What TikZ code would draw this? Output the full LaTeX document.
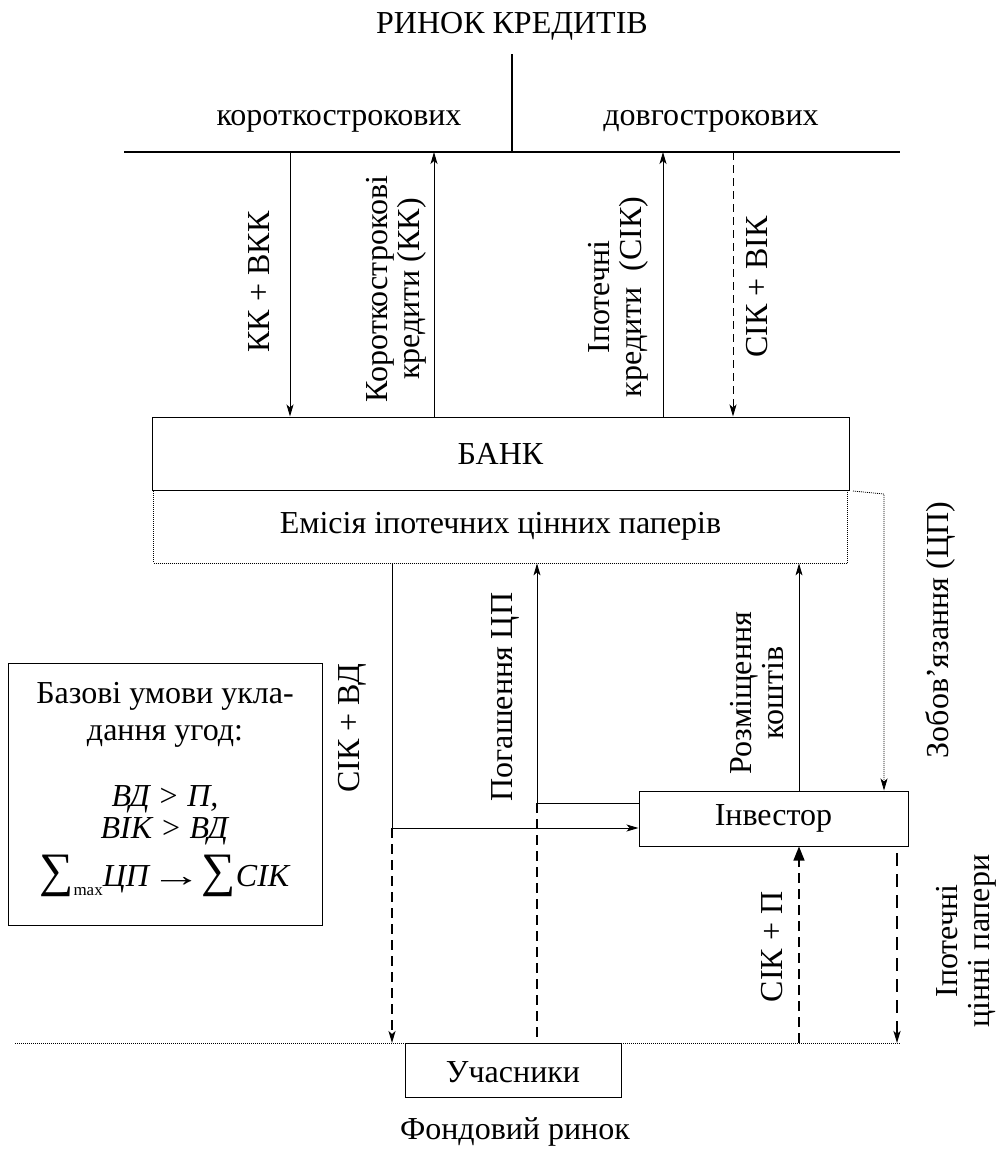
\documentclass[tikz,border=0pt]{standalone}
\usepackage{fontspec}
\setmainfont{Liberation Serif}
\usetikzlibrary{arrows.meta}
\begin{document}
\begin{tikzpicture}[x=1pt,y=-1pt,
  every node/.style={font=\fontsize{32}{32}\selectfont, inner sep=0pt},
  lbl/.style={rotate=90, align=center},
  box/.style={draw, line width=1pt},
  ln/.style={line width=1pt},
  tip/.style={-{Stealth[length=12pt,width=7pt,inset=3pt]}},
  arr/.style={ln, tip},
  dashln/.style={ln, dash pattern=on 8pt off 5pt},
  middash/.style={line width=1.3pt, dash pattern=on 10pt off 6pt},
  bigdash/.style={line width=2pt, dash pattern=on 13pt off 8pt},
  dotln/.style={line width=0.8pt, dash pattern=on 1pt off 1pt},
]
\useasboundingbox (0,0) rectangle (1001,1149);

% top market
\node (title) at (512,26) {РИНОК КРЕДИТІВ};
\coordinate (divtop) at (512,54);
\coordinate (L) at (124,152);
\coordinate (R) at (900,152);
\coordinate (mid) at (512,152);
\draw[line width=2pt] (L) -- (R);
\draw[line width=1.4pt] (divtop) -- (mid);
\node[anchor=base] (short) at (339,125) {короткострокових};
\node[anchor=base] (long) at (711,125) {довгострокових};

% bank and emission
\node[box, minimum width=697pt, minimum height=73pt] (bank) at (500.5,453.5) {БАНК};
\node[dotln, draw, minimum width=694pt, minimum height=73pt] (emis) at (500.5,526.5) {Емісія іпотечних цінних паперів};

% arrows top
\coordinate (t1) at (290,152);
\coordinate (t2) at (434,152);
\coordinate (t3) at (663,152);
\coordinate (t4) at (733,152);
\draw[arr] (t1) -- (t1 |- bank.north);
\draw[arr] (t2 |- bank.north) -- (t2);
\draw[arr] (t3 |- bank.north) -- (t3);
\draw[dashln, tip] (t4) -- (t4 |- bank.north);

\node[lbl] (l1) at (259,282) {КК + ВКК};
\node[lbl] (l2) at (396,289) {Короткострокові\\кредити (КК)};
\node[lbl] (l3) at (618,297) {Іпотечні\\кредити\ \ (СІК)};
\node[lbl] (l4) at (757,287) {СІК + ВІК};

% investor, participants
\node[box, minimum width=269pt, minimum height=55pt] (inv) at (773.5,818.5) {Інвестор};
\coordinate (fl) at (15,1043);
\coordinate (fr) at (900,1043);
\draw[dotln] (fl) -- (fr);
\node[box, fill=white, minimum width=216pt, minimum height=54pt] (uch) at (513,1070) {};
\node[anchor=base] (uchtext) at (uch.center |- 0,1082) {Учасники};
\node[anchor=base] (fond) at (515,1139) {Фондовий ринок};

% middle connectors
\coordinate (x1) at (392,828);
\draw[ln] (x1 |- emis.south) -- (x1);
\draw[arr] (x1) -- (x1 -| inv.west);
\draw[middash, tip] (x1) -- (x1 |- fl);

\coordinate (x2) at (537,803);
\draw[arr] (x2 -| inv.west) -- (x2) -- (x2 |- emis.south);
\draw[middash] (x2) -- (x2 |- uch.north);

\coordinate (x3) at (799,700);
\draw[arr] (x3 |- inv.north) -- (x3 |- emis.south);
\draw[middash, -{Triangle[length=14pt,width=11pt]}] (x3 |- fl) -- (x3 |- inv.south);

\coordinate (z0) at (853,491);
\coordinate (z1) at (884,494);
\draw[dotln, tip] (z0) -- (z1) -- (z1 |- inv.north);

\coordinate (x4) at (897,853);
\draw[bigdash, tip] (x4) -- (x4 |- fl);

\node[lbl] (m1) at (352,728) {СІК + ВД};
\node[lbl] (m2) at (505,697) {Погашення ЦП};
\node[lbl] (m3) at (757,693) {Розміщення\\коштів};
\node[lbl] (m4) at (940,630) {Зобов’язання (ЦП)};
\node[lbl] (b1) at (772,947) {СІК + П};
\node[lbl] (b2) at (966,941) {Іпотечні\\цінні папери};

% conditions box
\draw[ln] (8,663) rectangle (322,925);
\node[anchor=base] (c1) at (165,703) {Базові умови укла-};
\node[anchor=base] (c2) at (165,740) {дання угод:};
\node[anchor=base] (c3) at (165,806) {\textit{ВД > П,}};
\node[anchor=base] (c4) at (165,838) {\textit{ВІК > ВД}};
\node[anchor=base] (c5) at (165,886) {{\fontsize{48}{48}\selectfont ∑}\raisebox{-9pt}{\fontsize{17}{17}\selectfont max}\textit{ЦП}\scalebox{1.6}[1]{→}{\fontsize{48}{48}\selectfont ∑}\textit{СІК}};
\end{tikzpicture}
\end{document}
